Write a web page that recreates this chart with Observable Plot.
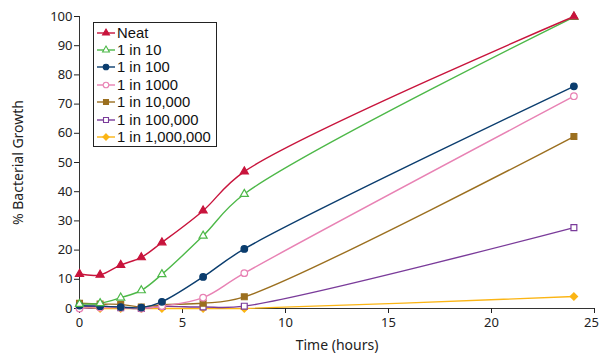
<!DOCTYPE html>
<html><head><meta charset="utf-8">
<script src="https://cdn.jsdelivr.net/npm/d3@7"></script>
<script src="https://cdn.jsdelivr.net/npm/@observablehq/plot@0.6"></script>
<style>
html,body{margin:0;padding:0;background:#fff;}
#wrap{position:relative;width:600px;height:361px;font-family:"Noto Sans",sans-serif;}
#legend{position:absolute;left:93px;top:22px;width:122px;height:123px;border:1px solid #222;background:#fff;font-family:"Liberation Sans",Arial,sans-serif;font-size:14.8px;line-height:16px;color:#111;}
.row{position:absolute;left:2px;height:16px;line-height:16px;display:flex;align-items:center;white-space:nowrap;}
.row span{line-height:16px;display:inline-block;height:16px;}
.row svg{margin-right:1px;}
</style></head>
<body><div id="wrap"></div>
<script>
const times = [0, 1, 2, 3, 4, 6, 8, 24];
const seriesNames = ["Neat", "1 in 10", "1 in 100", "1 in 1000", "1 in 10,000", "1 in 100,000", "1 in 1,000,000"];
const neat   = [11.8, 11.5, 14.9, 17.5, 22.6, 33.5, 46.9, 100];
const d10    = [1.5, 1.8, 3.7, 6.2, 11.7, 24.9, 39.2, 99.8];
const d100   = [1.0, 0.8, 0.5, 0.3, 2.3, 10.8, 20.4, 76.1];
const d1000  = [0.0, 0.3, 0.3, 0.0, 0.8, 3.7, 12.1, 72.7];
const d1e4   = [1.8, 1.5, 1.4, 0.5, 1.3, 1.8, 4.0, 58.9];
const d1e5   = [0.5, 0.8, 0.3, 0.0, 0.7, 0.5, 0.8, 27.7];
const d1e6   = [0.8, 0.0, 0.0, 0.0, 0.0, 0.0, 0.0, 4.1];
const xTicks = [0, 5, 10, 15, 20, 25];
const yTicks = [0, 10, 20, 30, 40, 50, 60, 70, 80, 90, 100];

const values = [neat, d10, d100, d1000, d1e4, d1e5, d1e6];
const colors = ["#c8143c", "#4db848", "#0b3d6e", "#e882b4", "#9b6f1f", "#7a3b9a", "#fbb515"];
const symbols = ["triangle", "triangle", "circle", "circle", "square", "square", "diamond2"];
const filled = [true, false, true, false, true, false, true];
const radii = {triangle: 3.0, circle: 3.3, square: 3.3, diamond2: 3.3};

const data = [];
seriesNames.forEach((s, i) => times.forEach((t, j) => data.push({series: s, i, t, v: values[i][j]})));

const marks = [
  Plot.ruleY([0], {stroke: "#333"}),
  Plot.ruleX([0], {stroke: "#333"}),
  Plot.axisX({ticks: xTicks, tickSize: 5, tickPadding: 4, fontSize: 13, label: "Time (hours)", labelAnchor: "center", labelArrow: "none", labelOffset: 41}),
  Plot.axisY({ticks: yTicks, tickSize: 5, tickPadding: 2, fontSize: 13, label: "% Bacterial Growth", labelAnchor: "center", labelArrow: "none", labelOffset: 66})
];
for (let i = seriesNames.length - 1; i >= 0; i--) {
  const d = data.filter(r => r.i === i);
  marks.push(Plot.line(d, {x: "t", y: "v", stroke: colors[i], strokeWidth: 1.4, curve: "catmull-rom"}));
}
for (let i = seriesNames.length - 1; i >= 0; i--) {
  const d = data.filter(r => r.i === i);
  marks.push(Plot.dot(d, {x: "t", y: "v", symbol: () => symbols[i], r: radii[symbols[i]],
    fill: filled[i] ? colors[i] : "white", stroke: colors[i], strokeWidth: 1.2}));
}

const chart = Plot.plot({
  width: 600, height: 361,
  marginLeft: 79, marginRight: 6, marginTop: 16, marginBottom: 53,
  style: {fontFamily: "Noto Sans, sans-serif", fontSize: "13px", color: "#222", background: "white", overflow: "visible"},
  x: {domain: [0, 25]},
  y: {domain: [0, 100]},
  marks
});
const wrap = document.getElementById("wrap");
wrap.appendChild(chart);
d3.select(chart).selectAll("[aria-label='y-axis label'] text, [aria-label='x-axis label'] text").style("font-size", "14px");
const xt = d3.select(chart).selectAll("[aria-label='x-axis tick label'] text").nodes();
if (xt.length) d3.select(xt[xt.length - 1]).attr("dx", -3);

// legend
const lg = document.createElement("div");
lg.id = "legend";
wrap.appendChild(lg);
const symGen = {triangle: d3.symbolTriangle, circle: d3.symbolCircle, square: d3.symbolSquare, diamond2: d3.symbolDiamond2};
seriesNames.forEach((s, i) => {
  const row = document.createElement("div");
  row.className = "row";
  row.style.top = (i * 17.4 + 1.5) + "px";
  const svg = d3.create("svg").attr("width", 20).attr("height", 14);
  svg.append("line").attr("x1", 1).attr("x2", 19).attr("y1", 7).attr("y2", 7).attr("stroke", colors[i]).attr("stroke-width", 1.4);
  const rr = radii[symbols[i]] * 0.85;
  svg.append("path").attr("d", d3.symbol(symGen[symbols[i]], Math.PI * rr * rr)()).attr("transform", "translate(10,7)")
    .attr("fill", filled[i] ? colors[i] : "white").attr("stroke", colors[i]).attr("stroke-width", 1.1);
  row.appendChild(svg.node());
  const sp = document.createElement("span");
  sp.textContent = s;
  row.appendChild(sp);
  lg.appendChild(row);
});
</script></body></html>
